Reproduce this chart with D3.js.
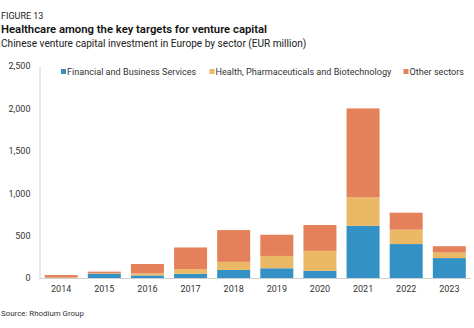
<!DOCTYPE html>
<html>
<head>
<meta charset="utf-8">
<script src="https://cdn.jsdelivr.net/npm/d3@7"></script>
<style>
  html, body { margin: 0; padding: 0; background: #fff; }
  svg { display: block; font-family: Roboto, "Noto Sans", sans-serif; }
</style>
</head>
<body>
<svg id="chart" width="474" height="328"></svg>
<script>
// Chinese VC investment in Europe by sector, EUR million
const years = ["2014", "2015", "2016", "2017", "2018", "2019", "2020", "2021", "2022", "2023"];
const financial = [0, 50, 30, 50, 95, 115, 85, 615, 400, 235];
const health = [5, 5, 25, 55, 95, 145, 235, 335, 170, 65];
const other = [30, 20, 110, 255, 375, 250, 305, 1050, 200, 75];
const seriesNames = ["Financial and Business Services", "Health, Pharmaceuticals and Biotechnology", "Other sectors"];
const seriesColors = ["#3391c5", "#ebb966", "#e4805a"];
const yTicks = [0, 500, 1000, 1500, 2000, 2500];

const svg = d3.select("#chart");
const margin = { left: 39.5, right: 3, top: 66, bottom: 50 };
const W = 474, H = 328;

const rows = years.map((y, i) => ({ year: y, fin: financial[i], health: health[i], other: other[i] }));
const keys = ["fin", "health", "other"];
const stacked = d3.stack().keys(keys)(rows);

const x = d3.scaleBand().domain(years).range([margin.left, W - margin.right]).paddingInner(0.235).paddingOuter(0.12);
const y = d3.scaleLinear().domain([0, 2500]).range([H - margin.bottom, margin.top]);

// Titles
svg.append("text").attr("x", 1).attr("y", 19).attr("font-size", 9).attr("fill", "#222").text("FIGURE 13");
svg.append("text").attr("x", 1).attr("y", 33).attr("font-size", 11.3).attr("font-weight", 600).attr("fill", "#111")
  .text("Healthcare among the key targets for venture capital");
svg.append("text").attr("x", 1).attr("y", 47).attr("font-size", 10.1).attr("fill", "#222")
  .text("Chinese venture capital investment in Europe by sector (EUR million)");

// Bars
svg.append("g").selectAll("g").data(stacked).join("g")
  .attr("fill", (d, i) => seriesColors[i])
  .selectAll("rect").data(d => d).join("rect")
  .attr("x", d => x(d.data.year))
  .attr("width", x.bandwidth())
  .attr("y", d => y(d[1]))
  .attr("height", d => y(d[0]) - y(d[1]));

// Y axis
const yAxis = svg.append("g").attr("transform", `translate(${margin.left},0)`)
  .call(d3.axisLeft(y).tickValues(yTicks).tickFormat(d3.format(",")).tickSize(0).tickPadding(9));
yAxis.select(".domain").attr("stroke", "#d0d0d0");
yAxis.selectAll("text").attr("font-size", 9).attr("fill", "#333").attr("font-family", "Roboto, sans-serif");

// X axis
const xAxis = svg.append("g").attr("transform", `translate(0,${H - margin.bottom})`)
  .call(d3.axisBottom(x).tickSize(0).tickPadding(8));
xAxis.select(".domain").attr("stroke", "#d0d0d0").attr("d", `M${margin.left},0.5H${W - margin.right}`);
xAxis.selectAll("text").attr("font-size", 9).attr("fill", "#333").attr("font-family", "Roboto, sans-serif");

// Legend
const legendX = [61, 209.5, 403.5];
const lg = svg.append("g").selectAll("g").data(seriesNames).join("g")
  .attr("transform", (d, i) => `translate(${legendX[i]},72)`);
lg.append("rect").attr("x", 0).attr("y", -3).attr("width", 5).attr("height", 5).attr("fill", (d, i) => seriesColors[i]);
lg.append("text").attr("x", 6).attr("y", 3.3).attr("font-size", 9.1).attr("fill", "#333").text(d => d);

// Source
svg.append("text").attr("x", 1).attr("y", 316).attr("font-size", 7.9).attr("fill", "#333").text("Source: Rhodium Group");
</script>
</body>
</html>
